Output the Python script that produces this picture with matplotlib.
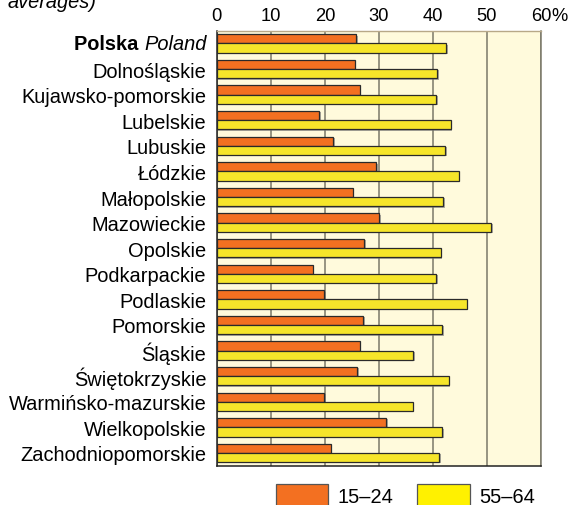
import matplotlib.pyplot as plt
import matplotlib.patheffects as pe
from matplotlib.patches import Rectangle
import numpy as np

plt.rcParams['font.family'] = ['Liberation Sans', 'DejaVu Sans']

regions = ['Polska', 'Dolnośląskie', 'Kujawsko-pomorskie', 'Lubelskie', 'Lubuskie',
           'Łódzkie', 'Małopolskie', 'Mazowieckie', 'Opolskie', 'Podkarpackie',
           'Podlaskie', 'Pomorskie', 'Śląskie', 'Świętokrzyskie',
           'Warmińsko-mazurskie', 'Wielkopolskie', 'Zachodniopomorskie']
age_15_24 = [25.8, 25.5, 26.5, 19.0, 21.6, 29.5, 25.2, 30.1, 27.3, 17.8,
             19.9, 27.1, 26.5, 26.0, 19.9, 31.4, 21.1]
age_55_64 = [42.5, 40.8, 40.6, 43.3, 42.3, 44.8, 41.9, 50.8, 41.5, 40.6,
             46.3, 41.7, 36.4, 42.9, 36.3, 41.7, 41.2]
xticks = [0, 10, 20, 30, 40, 50, 60]

orange = '#F37021'
yellow = '#F6E52A'
fs = 14.4
fs_tick = 13.2

fig = plt.figure(figsize=(5.72, 5.06), dpi=100)
ax = fig.add_axes([0.3789, 0.0777, 0.5670, 0.8597])
ax.set_facecolor('#FFFADC')

y = np.arange(len(regions))
h = 0.36
shadow = [pe.SimplePatchShadow(offset=(1, -1), shadow_rgbFace='#777777', alpha=0.6), pe.Normal()]
b1 = ax.barh(y - h / 2, age_15_24, height=h, color=orange, edgecolor='#2a2a2a', linewidth=0.9, zorder=3)
b2 = ax.barh(y + h / 2, age_55_64, height=h, color=yellow, edgecolor='#2a2a2a', linewidth=0.9, zorder=3)
for bar in list(b1) + list(b2):
    bar.set_path_effects(shadow)

ax.set_xlim(0, 60)
ax.set_ylim(len(regions) - 0.5, -0.5)
ax.set_xticks(xticks)
ax.set_xticklabels([str(t) for t in xticks])
ax.xaxis.tick_top()
ax.tick_params(axis='x', length=0, labelsize=fs_tick, pad=5)
ax.tick_params(axis='y', length=0, labelsize=fs, pad=7.5)
ax.set_yticks(y)
ax.set_yticklabels([''] + regions[1:])
ax.grid(axis='x', color='#7a7868', linewidth=1.1, zorder=1)
ax.set_axisbelow(True)

for s in ['left', 'bottom']:
    ax.spines[s].set_color('#222222')
    ax.spines[s].set_linewidth(1.1)
ax.spines['top'].set_color('#b8a888')
ax.spines['top'].set_linewidth(1.0)
ax.spines['right'].set_color('#7a7868')
ax.spines['right'].set_linewidth(1.1)

# percent sign after the last tick label
ax.annotate('%', xy=(60, 1), xycoords=('data', 'axes fraction'), xytext=(7.6, 5),
            textcoords='offset points', ha='left', va='bottom', fontsize=fs_tick)

# "Polska Poland" label with mixed styles
t_pl = ax.annotate('Poland', xy=(0, 0), xycoords='data', xytext=(-7.5, 0),
                   textcoords='offset points', ha='right', va='center',
                   fontsize=fs, style='italic')
ax.annotate('Polska ', xy=(0, 0.5), xycoords=t_pl, ha='right', va='center',
            fontsize=fs, weight='bold')

fig.text(0.014, 0.985, 'averages)', fontsize=fs, style='italic', ha='left', va='baseline')

# legend
leg = [(0.482, orange, '15–24'), (0.729, '#FFF100', '55–64')]
for x0, c, lab in leg:
    fig.patches.append(Rectangle((x0, -0.01), 0.092, 0.052, transform=fig.transFigure,
                                 facecolor=c, edgecolor='#555555', linewidth=0.9))
    fig.text(x0 + 0.108, 0.006, lab, fontsize=fs, ha='left', va='baseline')

fig.savefig('out.png', dpi=100)
